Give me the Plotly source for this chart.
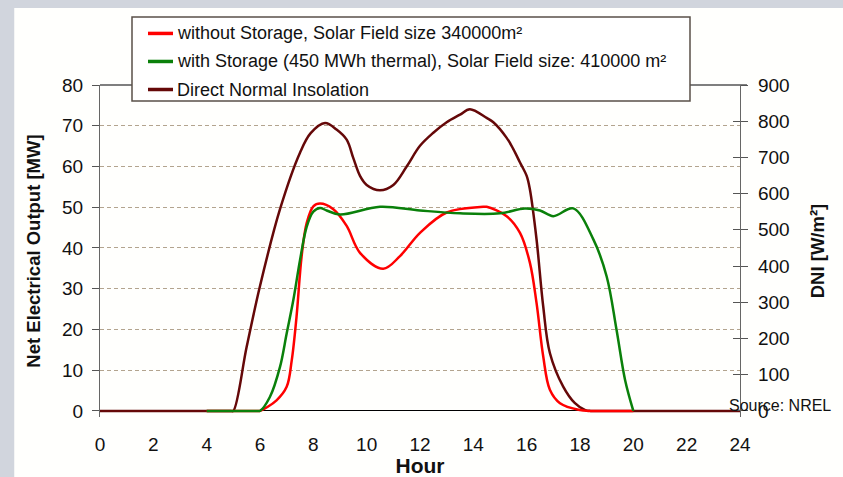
import plotly.graph_objects as go

# ---- data ----
dni_hours = [0, 2, 4, 4.9, 5.0, 5.5, 6.0, 6.75, 7.5, 7.9, 8.44, 8.87, 9.25, 9.5, 9.75, 10.0, 10.5, 11.0,
             11.5, 12.0, 12.5, 13.0, 13.5, 13.87, 14.5, 14.75, 15.25, 15.5, 15.75, 16.0, 16.12, 16.37,
             16.62, 16.87, 17.37, 17.8, 18.2, 18.4, 18.5, 24]
dni_values = [0, 0, 0, 0, 0, 177, 345, 557, 713, 767, 795, 777, 749, 698, 649, 624, 609, 624,
              675, 732, 768, 797, 818, 833, 809, 797, 754, 723, 686, 649, 612, 474,
              289, 160, 67, 22, 2, 0, 0, 0]

nostor_hours = [4.0, 5.9, 6.0, 6.62, 7.0, 7.19, 7.37, 7.56, 7.75, 8.0, 8.25, 8.75, 9.25, 9.75, 10.62,
                11.25, 12.0, 13.0, 14.37, 14.5, 15.25, 15.75, 16.12, 16.37, 16.62, 16.87, 17.25, 18.0,
                18.3, 18.4, 20.0]
nostor_values = [0, 0, 0, 2.6, 5.9, 12.4, 23.1, 37.9, 46.1, 50.2, 50.9, 49.5, 45.4, 38.8, 34.9,
                 38.0, 43.7, 48.7, 50.1, 50.1, 47.8, 43.7, 36.4, 26.5, 13.4, 5.2, 1.9, 0.2,
                 0, 0, 0]

stor_hours = [4.0, 5.9, 6.0, 6.37, 6.75, 7.0, 7.25, 7.5, 7.75, 8.0, 8.25, 8.5, 9.0, 10.5, 12.0, 13.5,
              15.0, 15.93, 16.5, 17.0, 17.75, 18.5, 19.0, 19.37, 19.69, 20.0]
stor_values = [0, 0, 0, 3.4, 10.8, 19.0, 27.2, 37.0, 45.2, 48.9, 49.8, 49.2, 48.2, 50.1, 49.2, 48.5,
               48.5, 49.7, 49.2, 47.8, 49.7, 42.1, 33.0, 19.9, 7.6, 0]

series_names = [
    "without Storage, Solar Field size 340000m²",
    "with Storage (450 MWh thermal), Solar Field size: 410000 m²",
    "Direct Normal Insolation",
]
series_colors = ["#ff0000", "#0a800a", "#650808"]

hour_ticks = list(range(0, 25, 2))
mw_ticks = list(range(0, 81, 10))
dni_ticks = list(range(0, 901, 100))

FONT = "Liberation Sans, Arial, sans-serif"
MW_MIN, MW_MAX = -1.5, 80
DNI_MIN, DNI_MAX = MW_MIN * 900 / 80, 900
SMOOTH = 1.0

# plot area in pixels (for converting legend layout to paper coords)
PL, PR, PT, PB = 100, 740, 85, 416.6
def px_x(p):
    return (p - PL) / (PR - PL)
def px_y(p):
    return (PB - p) / (PB - PT)

fig = go.Figure()
fig.add_trace(go.Scatter(
    x=nostor_hours, y=nostor_values, mode="lines", yaxis="y2", name=series_names[0],
    line=dict(color=series_colors[0], width=2.5, shape="spline", smoothing=SMOOTH)))
fig.add_trace(go.Scatter(
    x=stor_hours, y=stor_values, mode="lines", yaxis="y2", name=series_names[1],
    line=dict(color=series_colors[1], width=2.5, shape="spline", smoothing=SMOOTH)))
fig.add_trace(go.Scatter(
    x=dni_hours, y=dni_values, mode="lines", yaxis="y", name=series_names[2],
    line=dict(color=series_colors[2], width=2.5, shape="spline", smoothing=SMOOTH)))
fig.add_trace(go.Scatter(x=[], y=[], yaxis="y3", showlegend=False, hoverinfo="skip"))

# legend box drawn by hand
shapes = [
    dict(type="rect", xref="paper", yref="paper", x0=-0.134, x1=1.3, y0=-0.4, y1=1.232,
         fillcolor="#fffffd", line=dict(width=0), layer="below"),
    dict(type="line", xref="paper", yref="paper", x0=0, x1=1.011, y0=1, y1=1,
         line=dict(color="#555555", width=1.3), layer="below"),
    dict(type="rect", xref="paper", yref="paper", x0=px_x(132), x1=px_x(690),
         y0=px_y(101), y1=px_y(17), fillcolor="#ffffff",
         line=dict(color="#5a5048", width=1.5), layer="above"),
]
annotations = []
row_y = [33.5, 61.5, 89.5]
for name, color, ry in zip(series_names, series_colors, row_y):
    shapes.append(dict(type="line", xref="paper", yref="paper", x0=px_x(148), x1=px_x(173),
                       y0=px_y(ry), y1=px_y(ry), line=dict(color=color, width=3.5), layer="above"))
    annotations.append(dict(text=name, xref="paper", yref="paper", x=px_x(175), y=px_y(ry),
                            xanchor="left", yanchor="middle", showarrow=False,
                            font=dict(family=FONT, size=18, color="#111111")))
annotations.append(dict(text="Source: NREL", xref="paper", yref="paper", x=0.98, y=0.035,
                        xanchor="left", yanchor="middle", showarrow=False,
                        font=dict(family=FONT, size=16, color="#111111")))

fig.update_layout(
    width=843, height=477,
    margin=dict(l=PL, r=843 - PR, t=PT, b=477 - PB, autoexpand=False),
    paper_bgcolor="#d1d5dd",
    plot_bgcolor="rgba(0,0,0,0)",
    font=dict(family=FONT, color="#111111", size=19),
    showlegend=False,
    xaxis=dict(
        range=[0, 24], tickvals=hour_ticks, showgrid=False, zeroline=False,
        showline=False, ticks="", tickfont=dict(size=19),
        ticklabelstandoff=14, automargin=False,
        title=dict(text="<b>Hour</b>", font=dict(size=21), standoff=0),
        layer="below traces",
    ),
    yaxis=dict(
        range=[DNI_MIN, DNI_MAX], tickvals=dni_ticks, side="right", automargin=False,
        showgrid=False, zeroline=False, showline=True, linecolor="#666666", linewidth=1.3,
        ticks="outside", ticklen=7, tickcolor="#555555", tickwidth=1.2,
        tickfont=dict(size=19), ticklabelstandoff=6,
        title=dict(text="<b>DNI [W/m²]</b>", font=dict(size=18.5), standoff=22),
        layer="below traces",
    ),
    yaxis2=dict(
        range=[MW_MIN, MW_MAX], tickvals=mw_ticks, side="left", overlaying="y", automargin=False,
        showgrid=True, gridcolor="#b3a48f", griddash="4px,3px", gridwidth=1,
        zeroline=True, zerolinecolor="#000000", zerolinewidth=1.2,
        showline=True, linecolor="#666666", linewidth=1.3,
        ticks="outside", ticklen=7, tickcolor="#555555", tickwidth=1.2,
        tickfont=dict(size=19), ticklabelstandoff=5,
        title=dict(text="<b>Net Electrical Output [MW]</b>", font=dict(size=18.5), standoff=16),
        layer="below traces",
    ),
    yaxis3=dict(
        range=[DNI_MIN, DNI_MAX], tickvals=dni_ticks, side="right", overlaying="y",
        showgrid=False, zeroline=False, showline=False, showticklabels=False,
        ticks="inside", ticklen=7, tickcolor="#555555", tickwidth=1.2,
    ),
    shapes=shapes,
    annotations=annotations,
)

fig.write_html("out.html", config={"displayModeBar": False},
               post_script="document.body.style.margin='0';")
